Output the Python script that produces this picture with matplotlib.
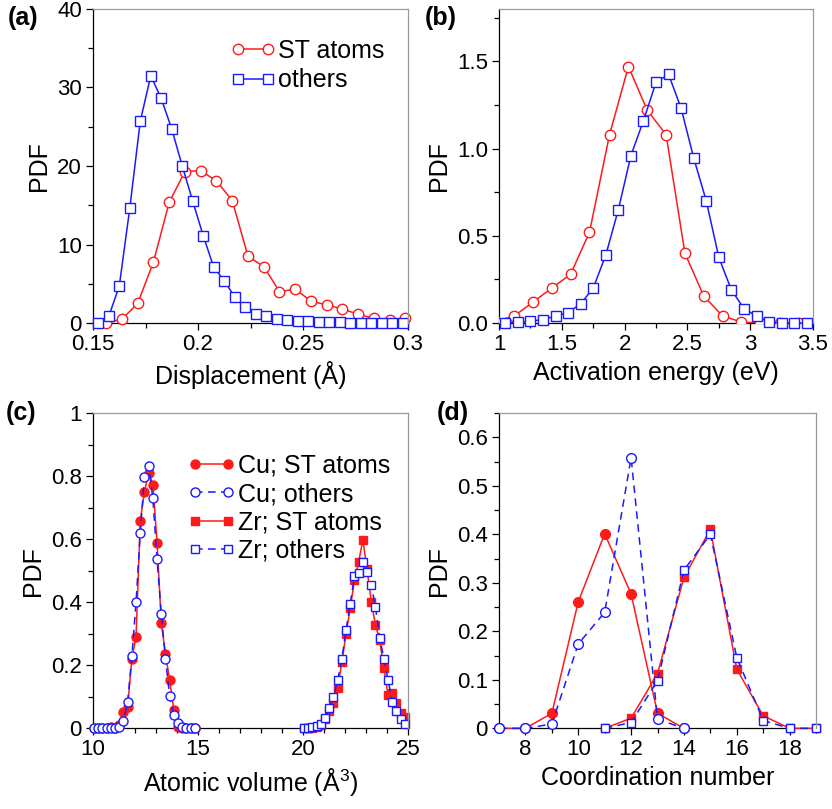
import matplotlib
matplotlib.use('Agg')
import matplotlib.pyplot as plt
from matplotlib.ticker import MultipleLocator

plt.rcParams['font.family'] = ['Liberation Sans', 'DejaVu Sans']
plt.rcParams['mathtext.fontset'] = 'custom'
plt.rcParams['mathtext.rm'] = 'Liberation Sans'
plt.rcParams['mathtext.it'] = 'Liberation Sans:italic'

RED = '#ff1a1a'
BLUE = '#1a1aff'

# (a) displacement PDF
disp_st_x = [0.1563, 0.1638, 0.1713, 0.1788, 0.1863, 0.1938, 0.2013, 0.2088, 0.2163, 0.2238,
             0.2313, 0.2388, 0.2463, 0.2538, 0.2613, 0.2688, 0.2763, 0.2838, 0.2913, 0.2988]
disp_st_y = [0, 0.5, 2.5, 7.8, 15.4, 19.3, 19.4, 18.1, 15.6, 8.5,
             7.2, 4.0, 4.3, 2.8, 2.3, 1.8, 1.1, 0.6, 0.45, 0.65]
disp_ot_x = [0.1525, 0.1575, 0.1625, 0.1675, 0.1725, 0.1775, 0.1825, 0.1875, 0.1925, 0.1975,
             0.2025, 0.2075, 0.2125, 0.2175, 0.2225, 0.2275, 0.2325, 0.2375, 0.2425, 0.2475,
             0.2525, 0.2575, 0.2625, 0.2675, 0.2725, 0.2775, 0.2825, 0.2875, 0.2925, 0.2975]
disp_ot_y = [0, 0.85, 4.7, 14.6, 25.7, 31.5, 28.6, 24.7, 20.0, 15.5,
             11.1, 7.1, 5.4, 3.3, 2.0, 1.2, 0.9, 0.47, 0.4, 0.25,
             0.2, 0.12, 0.1, 0.08, 0.05, 0.02, 0.01, 0, 0, 0]

# (b) activation energy PDF
ea_st_x = [0.97, 1.12, 1.27, 1.42, 1.57, 1.72, 1.88, 2.03, 2.18, 2.33,
           2.48, 2.63, 2.78, 2.93, 3.08, 3.24, 3.39]
ea_st_y = [0.01, 0.04, 0.12, 0.2, 0.28, 0.52, 1.08, 1.47, 1.22, 1.08,
           0.40, 0.155, 0.04, 0.006, 0, 0, 0]
ea_ot_x = [1.05, 1.15, 1.25, 1.35, 1.45, 1.55, 1.65, 1.75, 1.85, 1.95,
           2.05, 2.15, 2.25, 2.35, 2.45, 2.55, 2.65, 2.75, 2.85, 2.95,
           3.05, 3.15, 3.25, 3.35, 3.45]
ea_ot_y = [0, 0.005, 0.01, 0.02, 0.04, 0.06, 0.11, 0.2, 0.39, 0.65,
           0.96, 1.16, 1.38, 1.425, 1.23, 0.946, 0.70, 0.376, 0.19, 0.083,
           0.04, 0.006, 0, 0, 0]

# (c) atomic volume PDF
cu_vol = [10.05, 10.25, 10.45, 10.65, 10.85, 11.05, 11.25, 11.45, 11.65, 11.85,
          12.05, 12.25, 12.45, 12.65, 12.85, 13.05, 13.25, 13.45, 13.65, 13.85,
          14.05, 14.25, 14.45, 14.65, 14.85]
cu_st_pdf = [0, 0, 0, 0, 0.004, 0.002, 0.01, 0.053, 0.069, 0.22,
             0.291, 0.659, 0.751, 0.811, 0.772, 0.589, 0.335, 0.236, 0.153, 0.058,
             0.005, 0, 0, 0, 0]
cu_ot_pdf = [0, 0, 0, 0, 0, 0, 0.005, 0.023, 0.085, 0.228,
             0.40, 0.62, 0.798, 0.833, 0.73, 0.536, 0.364, 0.22, 0.103, 0.042,
             0.016, 0.004, 0, 0, 0]
zr_vol = [20.05, 20.25, 20.45, 20.65, 20.85, 21.05, 21.25, 21.45, 21.65, 21.85,
          22.05, 22.25, 22.45, 22.65, 22.85, 23.05, 23.25, 23.45, 23.65, 23.85,
          24.05, 24.25, 24.45, 24.65, 24.85]
zr_st_pdf = [0, 0, 0.002, 0.005, 0.01, 0.03, 0.055, 0.079, 0.127, 0.21,
             0.30, 0.381, 0.47, 0.528, 0.597, 0.505, 0.402, 0.328, 0.28, 0.19,
             0.106, 0.111, 0.08, 0.05, 0.035]
zr_ot_pdf = [0, 0.002, 0.004, 0.008, 0.015, 0.034, 0.066, 0.10, 0.153, 0.221,
             0.312, 0.395, 0.484, 0.494, 0.527, 0.495, 0.454, 0.384, 0.288, 0.221,
             0.153, 0.085, 0.054, 0.029, 0.014]

# (d) coordination number PDF
cu_cn = [7, 8, 9, 10, 11, 12, 13, 14]
cu_cn_st = [0, 0, 0.031, 0.261, 0.401, 0.277, 0.031, 0]
cu_cn_ot = [0, 0, 0.009, 0.174, 0.239, 0.558, 0.019, 0]
zr_cn = [11, 12, 13, 14, 15, 16, 17, 18, 19]
zr_cn_st = [0, 0.021, 0.113, 0.311, 0.41, 0.122, 0.026, 0, 0]
zr_cn_ot = [0, 0.012, 0.098, 0.326, 0.40, 0.146, 0.016, 0, 0]

TICK_FS = 16
LABEL_FS = 18
LEG_FS = 18


def style(ax, xlim, ylim, xmaj, xmin, ymaj, ymin):
    ax.set_xlim(*xlim)
    ax.set_ylim(*ylim)
    ax.xaxis.set_major_locator(MultipleLocator(xmaj))
    ax.xaxis.set_minor_locator(MultipleLocator(xmin))
    ax.yaxis.set_major_locator(MultipleLocator(ymaj))
    ax.yaxis.set_minor_locator(MultipleLocator(ymin))
    for s in ('top', 'right'):
        ax.spines[s].set_color('#999999')
        ax.spines[s].set_linewidth(0.9)
    for s in ('left', 'bottom'):
        ax.spines[s].set_linewidth(0.9)
        ax.spines[s].set_zorder(1)
    ax.tick_params(which='both', direction='out', top=False, right=False,
                   width=0.9, labelsize=TICK_FS, pad=3)
    ax.tick_params(which='major', length=5)
    ax.tick_params(which='minor', length=3.5)
    ax.set_ylabel('PDF', fontsize=LABEL_FS)


fig = plt.figure(figsize=(8.32, 8.09), dpi=100)
ax_a = fig.add_axes([0.1118, 0.6007, 0.3786, 0.3882])
ax_b = fig.add_axes([0.5998, 0.6007, 0.3774, 0.3882])
ax_c = fig.add_axes([0.1118, 0.0997, 0.3786, 0.3898])
ax_d = fig.add_axes([0.5998, 0.0997, 0.3810, 0.3898])

# (a)
ax_a.plot(disp_st_x, disp_st_y, '-o', color=RED, mfc='white', mec=RED, ms=7.5,
          mew=1.0, lw=1.1, label='ST atoms', clip_on=False)
ax_a.plot(disp_ot_x, disp_ot_y, '-s', color=BLUE, mfc='white', mec=BLUE, ms=6.5,
          mew=1.0, lw=1.1, label='others', clip_on=False)
style(ax_a, (0.15, 0.3), (0, 40), 0.05, 0.025, 10, 5)
ax_a.set_xticks([0.15, 0.2, 0.25, 0.3])
ax_a.set_xticklabels(['0.15', '0.2', '0.25', '0.3'])
ax_a.set_xlabel('Displacement (Å)', fontsize=LABEL_FS)
ax_a.legend(loc='upper left', bbox_to_anchor=(0.4365, 0.905), frameon=False,
            fontsize=LEG_FS, handlelength=1.8, handletextpad=0.1,
            borderpad=0, borderaxespad=0, labelspacing=0.22, numpoints=2)

# (b)
ax_b.plot(ea_st_x, ea_st_y, '-o', color=RED, mfc='white', mec=RED, ms=7.5,
          mew=1.0, lw=1.1)
ax_b.plot(ea_ot_x, ea_ot_y, '-s', color=BLUE, mfc='white', mec=BLUE, ms=6.5,
          mew=1.0, lw=1.1, clip_on=False)
style(ax_b, (1, 3.5), (0, 1.8), 0.5, 0.25, 0.5, 0.25)
ax_b.set_xticks([1, 1.5, 2, 2.5, 3, 3.5])
ax_b.set_xticklabels(['1', '1.5', '2', '2.5', '3', '3.5'])
ax_b.set_yticks([0, 0.5, 1.0, 1.5])
ax_b.set_yticklabels(['0.0', '0.5', '1.0', '1.5'])
ax_b.set_xlabel('Activation energy (eV)', fontsize=LABEL_FS)

# (c)
ax_c.plot(cu_vol, cu_st_pdf, '-o', color=RED, mfc=RED, mec=RED, ms=6.5,
          lw=1.1, label='Cu; ST atoms', clip_on=False)
ax_c.plot(cu_vol, cu_ot_pdf, '--o', color=BLUE, mfc='white', mec=BLUE, ms=6.5,
          mew=1.0, lw=1.1, dashes=(5, 3.5), label='Cu; others', clip_on=False)
ax_c.plot(zr_vol, zr_st_pdf, '-s', color=RED, mfc=RED, mec=RED, ms=5.5,
          lw=1.1, label='Zr; ST atoms', clip_on=False)
ax_c.plot(zr_vol, zr_ot_pdf, '--s', color=BLUE, mfc='white', mec=BLUE, ms=5.5,
          mew=1.0, lw=1.1, dashes=(5, 3.5), label='Zr; others', clip_on=False)
style(ax_c, (10, 25), (0, 1), 5, 1, 0.2, 0.1)
ax_c.set_yticks([0, 0.2, 0.4, 0.6, 0.8, 1.0])
ax_c.set_yticklabels(['0', '0.2', '0.4', '0.6', '0.8', '1'])
ax_c.set_xlabel(r'Atomic volume (Å$^{\mathrm{3}}$)', fontsize=LABEL_FS)
ax_c.legend(loc='upper left', bbox_to_anchor=(0.30, 0.870), frameon=False,
            fontsize=LEG_FS, handlelength=1.9, handletextpad=0.1,
            borderpad=0, borderaxespad=0, labelspacing=0.17, numpoints=2)

# (d)
ax_d.plot(cu_cn, cu_cn_st, '-o', color=RED, mfc=RED, mec=RED, ms=7, lw=1.1,
          clip_on=False)
ax_d.plot(cu_cn, cu_cn_ot, '--o', color=BLUE, mfc='white', mec=BLUE, ms=7,
          mew=1.0, lw=1.1, dashes=(5, 3.5), clip_on=False)
ax_d.plot(zr_cn, zr_cn_st, '-s', color=RED, mfc=RED, mec=RED, ms=6, lw=1.1,
          clip_on=False)
ax_d.plot(zr_cn, zr_cn_ot, '--s', color=BLUE, mfc='white', mec=BLUE, ms=6,
          mew=1.0, lw=1.1, dashes=(5, 3.5), clip_on=False)
style(ax_d, (7, 19), (0, 0.65), 2, 1, 0.1, 0.05)
ax_d.set_yticks([0, 0.1, 0.2, 0.3, 0.4, 0.5, 0.6])
ax_d.set_yticklabels(['0', '0.1', '0.2', '0.3', '0.4', '0.5', '0.6'])
ax_d.set_xlabel('Coordination number', fontsize=LABEL_FS)

# panel tags
for tag, x, y in [('(a)', 8, 18), ('(b)', 425, 18), ('(c)', 6, 413), ('(d)', 437, 413)]:
    fig.text(x / 832, 1 - y / 809, tag, fontsize=18, fontweight='bold',
             ha='left', va='center')

fig.savefig('out.png', dpi=100)
